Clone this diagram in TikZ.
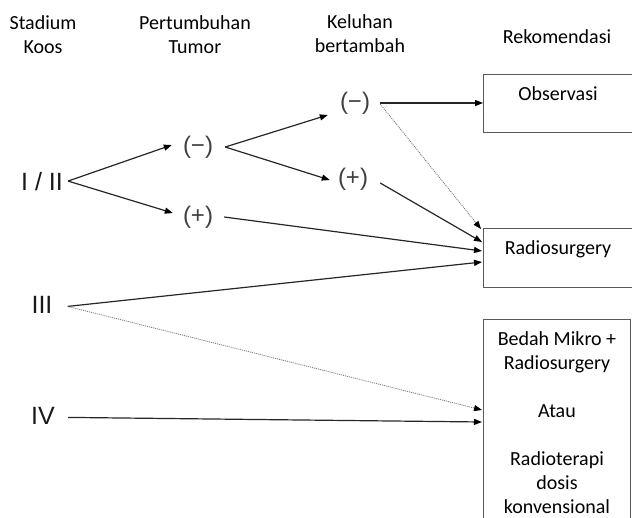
\documentclass[tikz,border=0pt]{standalone}
\usepackage{fontspec}
\setmainfont{Carlito}
\newfontfamily\numfont{Liberation Sans}
\usetikzlibrary{arrows.meta}
\begin{document}
\begin{tikzpicture}[x=1pt,y=-1pt,
  txt/.style={font=\fontsize{20}{24}\selectfont, text=black, inner sep=0pt, anchor=base},
  num/.style={font=\numfont\fontsize{25}{30}\selectfont, text=black!90, inner sep=0pt, anchor=base},
  sgn/.style={font=\numfont\fontsize{24}{28}\selectfont, text=black!75, inner sep=0pt},
  box/.style={draw=black!65, line width=1.1pt, inner sep=0pt, anchor=north west},
  arr/.style={draw=black!85, line width=1.2pt, -{Triangle[length=8pt,width=6pt,color=black]}},
  dotarr/.style={draw=black!55, line width=0.8pt, dash pattern=on 1pt off 1pt, -{Triangle[length=8pt,width=6pt,color=black]}}]
\useasboundingbox (0,0) rectangle (632,517);
\clip (0,0) rectangle (632,517);
% headers
\node[txt] (h1) at (43,29) {\begin{tabular}[t]{@{}c@{}}Stadium\\Koos\end{tabular}};
\node[txt] (h2) at (195,29) {\begin{tabular}[t]{@{}c@{}}Pertumbuhan\\Tumor\end{tabular}};
\node[txt] (h3) at (360,28) {\begin{tabular}[t]{@{}c@{}}Keluhan\\bertambah\end{tabular}};
\node[txt] (h4) at (557,43) {Rekomendasi};
% boxes
\node[box, minimum width=170pt, minimum height=58pt] (obs) at (483,74) {};
\node[box, minimum width=170pt, minimum height=59pt] (rad) at (483,228) {};
\node[box, minimum width=147pt, minimum height=240pt] (bed) at (483,319) {};
\node[txt] (obst) at (558,100) {Observasi};
\node[txt] (radt) at (558,254) {Radiosurgery};
\node[txt] (bedt) at (557,345) {\begin{tabular}[t]{@{}c@{}}Bedah Mikro +\\Radiosurgery\\ \\Atau\\ \\Radioterapi\\dosis\\konvensional\end{tabular}};
% stages
\node[num] (s12) at (42,190) {I / II};
\node[num] (s3) at (42,313) {III};
\node[num] (s4) at (43,424) {IV};
% signs
\node[sgn] (pm) at (198,147) {(−)};
\node[sgn] (pp) at (198,217) {(+)};
\node[sgn] (km) at (355,103) {(−)};
\node[sgn] (kp) at (353,179) {(+)};
% connectors
\draw[arr] ([xshift=5pt]s12.east) -- ([xshift=-11pt,yshift=2pt]pm.west);
\draw[arr] ([xshift=5pt]s12.east) -- ([xshift=-10pt,yshift=4pt]pp.west);
\draw[arr] ([xshift=12pt]pm.east) -- ([xshift=-12pt,yshift=-12pt]km.west);
\draw[arr] ([xshift=12pt]pm.east) -- ([xshift=-8pt,yshift=-1pt]kp.west);
\draw[arr] ([xshift=10pt]km.east) -- ([yshift=-29pt]obs.north west);
\draw[dotarr] ([xshift=10pt,yshift=-1pt]km.east) -- ([xshift=-2pt,yshift=-1pt]rad.north west);
\draw[arr] ([xshift=12pt,yshift=-4pt]kp.east) -- ([xshift=-1pt,yshift=-14pt]rad.north west);
\draw[arr] ([xshift=11pt]pp.east) -- ([xshift=-1pt,yshift=-23pt]rad.north west);
\draw[arr] ([xshift=15pt,yshift=-2pt]s3.east) -- ([xshift=-1pt,yshift=-34pt]rad.north west);
\draw[dotarr] ([xshift=15pt,yshift=-2pt]s3.east) -- ([xshift=-1pt,yshift=-91pt]bed.north west);
\draw[arr] ([xshift=13pt,yshift=-2pt]s4.east) -- ([xshift=-1pt,yshift=-103pt]bed.north west);
\end{tikzpicture}
\end{document}
